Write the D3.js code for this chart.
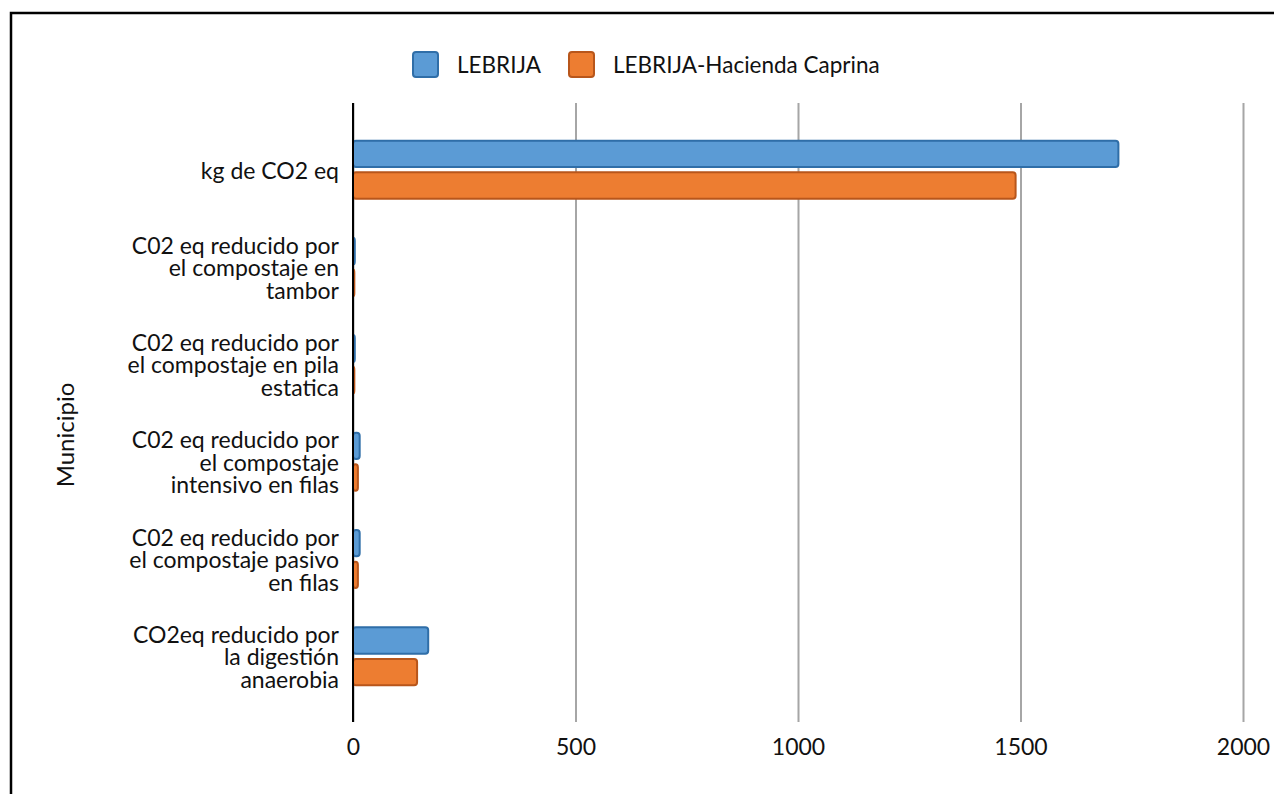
<!DOCTYPE html>
<html>
<head>
<meta charset="utf-8">
<script src="https://cdn.jsdelivr.net/npm/d3@7"></script>
<style>
  body { margin: 0; background: #fff; }
  svg { display: block; font-family: Lato, "Open Sans", sans-serif; }
</style>
</head>
<body>
<svg></svg>
<script>
var categories = [
  'kg de CO2 eq',
  'C02 eq reducido por el compostaje en tambor',
  'C02 eq reducido por el compostaje en pila estatica',
  'C02 eq reducido por el compostaje intensivo en filas',
  'C02 eq reducido por el compostaje pasivo en filas',
  'CO2eq reducido por la digestión anaerobia'
];
// how Excel wrapped each label
var categoryLines = [
  ['kg de CO2 eq'],
  ['C02 eq reducido por', 'el compostaje en', 'tambor'],
  ['C02 eq reducido por', 'el compostaje en pila', 'estatica'],
  ['C02 eq reducido por', 'el compostaje', 'intensivo en filas'],
  ['C02 eq reducido por', 'el compostaje pasivo', 'en filas'],
  ['CO2eq reducido por', 'la digestión', 'anaerobia']
];
var seriesNames = ['LEBRIJA', 'LEBRIJA-Hacienda Caprina'];
var lebrija = [1720, 4, 4, 15, 15, 169];
var haciendaCaprina = [1489, 3, 3, 11, 11, 144];
var xTicks = [0, 500, 1000, 1500, 2000];
var yTitle = 'Municipio';

window.BarChart = (function() {
  var W = 1274, H = 794;
  var fills = ['#5b9bd5', '#ed7d31'];
  var strokes = ['#2f6ea8', '#b8561b'];
  var $svg;

  var draw = function draw() {
    $svg = d3.select('svg').attr('width', W).attr('height', H);

    // outer frame (right and bottom edges are cut off in the picture)
    $svg.append('path')
      .attr('d', 'M11,' + (H + 5) + 'V13H' + (W + 5))
      .attr('fill', 'none').attr('stroke', '#000').attr('stroke-width', 2.5);

    var x = d3.scaleLinear().domain([0, 2000]).range([353, 1243]);
    var y = d3.scaleBand().domain(categories).range([121, 705]);
    var bw = y.bandwidth();
    var ySub = d3.scaleBand().domain(seriesNames)
      .range([bw / 2 - 29, bw / 2 + 29]).paddingInner(0.17);

    // gridlines + labels
    var axis = d3.axisBottom(x).tickValues(xTicks).tickSize(722 - 103).tickFormat(d3.format('d'));
    var $ax = $svg.append('g').attr('transform', 'translate(0,103)').call(axis);
    $ax.select('.domain').remove();
    $ax.selectAll('.tick line').attr('stroke', '#a6a6a6').attr('stroke-width', 2);
    $ax.selectAll('.tick text')
      .attr('y', 722 - 103 + 33).attr('dy', 0)
      .attr('font-size', 23).attr('fill', '#111')
      .style('font-family', 'Lato, sans-serif');

    // bars
    var rows = categories.map(function(c, i) {
      return {cat: c, vals: [lebrija[i], haciendaCaprina[i]]};
    });
    var $rows = $svg.selectAll('g.row').data(rows).enter().append('g')
      .attr('class', 'row')
      .attr('transform', function(d) { return 'translate(0,' + y(d.cat) + ')'; });
    $rows.selectAll('rect').data(function(d) {
      return d.vals.map(function(v, k) { return {s: seriesNames[k], v: v, k: k}; });
    }).enter().append('rect')
      .attr('x', x(0))
      .attr('y', function(d) { return ySub(d.s); })
      .attr('width', function(d) { return Math.max(x(d.v) - x(0), 1); })
      .attr('height', ySub.bandwidth())
      .attr('rx', 3)
      .attr('fill', function(d) { return fills[d.k]; })
      .attr('stroke', function(d) { return strokes[d.k]; })
      .attr('stroke-width', 2);

    // category axis line
    $svg.append('line')
      .attr('x1', x(0)).attr('x2', x(0)).attr('y1', 103).attr('y2', 722)
      .attr('stroke', '#000').attr('stroke-width', 2);

    // category labels
    $svg.selectAll('text.cat').data(categoryLines).enter().append('text')
      .attr('class', 'cat')
      .attr('text-anchor', 'end')
      .attr('font-size', 23).attr('fill', '#111')
      .each(function(lines, i) {
        var cy = y(categories[i]) + bw / 2;
        var $t = d3.select(this);
        lines.forEach(function(l, j) {
          $t.append('tspan')
            .attr('x', 339)
            .attr('y', cy + (j - (lines.length - 1) / 2) * 22.5 + 9)
            .text(l);
        });
      });

    // axis title
    $svg.append('text')
      .attr('transform', 'translate(74,435) rotate(-90)')
      .attr('text-anchor', 'middle')
      .attr('font-size', 24).attr('fill', '#111')
      .text(yTitle);

    // legend
    var legendX = [413, 569];
    var $leg = $svg.selectAll('g.leg').data(seriesNames).enter().append('g')
      .attr('class', 'leg')
      .attr('transform', function(d, i) { return 'translate(' + legendX[i] + ',52)'; });
    $leg.append('rect')
      .attr('width', 25).attr('height', 25).attr('rx', 3)
      .attr('fill', function(d, i) { return fills[i]; })
      .attr('stroke', function(d, i) { return strokes[i]; })
      .attr('stroke-width', 2);
    $leg.append('text')
      .attr('x', 44).attr('y', 21)
      .attr('font-size', 22.5).attr('fill', '#111')
      .text(function(d) { return d; });
  };

  return { draw: draw };
})();

BarChart.draw();
</script>
</body>
</html>
